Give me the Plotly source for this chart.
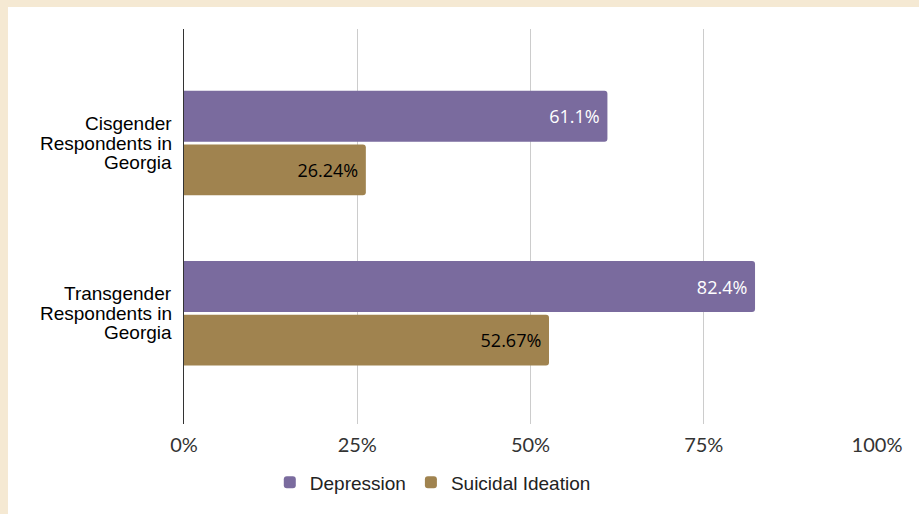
import plotly.graph_objects as go

categories = ["Cisgender Respondents in Georgia", "Transgender Respondents in Georgia"]
category_lines = [["Cisgender", "Respondents in", "Georgia"],
                  ["Transgender", "Respondents in", "Georgia"]]
depression = [61.1, 82.4]
suicidal = [26.24, 52.67]
tick_vals = [0, 25, 50, 75, 100]
tick_text = ["0%", "25%", "50%", "75%", "100%"]

purple = "#7a6b9e"
brown = "#a0834f"
NBSP = "\u00a0"

fig = go.Figure()
fig.add_trace(go.Bar(
    y=categories, x=depression, orientation="h", name="Depression",
    marker=dict(color=purple, line=dict(width=0)),
    text=[f"{v}%{NBSP}" for v in depression], textposition="inside", insidetextanchor="end",
    textfont=dict(family="Open Sans", size=18, color="white"),
))
fig.add_trace(go.Bar(
    y=categories, x=suicidal, orientation="h", name="Suicidal Ideation",
    marker=dict(color=brown, line=dict(width=0)),
    text=[f"{v}%{NBSP}" for v in suicidal], textposition="inside", insidetextanchor="end",
    textfont=dict(family="Open Sans", size=18, color="black"),
))

fig.add_shape(type="rect", xref="paper", yref="paper", x0=-0.254, x1=1.2, y0=-0.3, y1=1.0557,
              fillcolor="white", line=dict(width=0), layer="below")

for cat, lines in zip(categories, category_lines):
    n = len(lines)
    for i, line in enumerate(lines):
        fig.add_annotation(x=0, xref="paper", xanchor="right", xshift=-10,
                           y=cat, yref="y", yanchor="middle",
                           yshift=((n - 1) / 2 - i) * 19.5,
                           text=line, showarrow=False, align="right",
                           font=dict(family="Liberation Sans", size=19, color="black"))

fig.update_layout(
    width=919, height=514,
    margin=dict(l=184, r=42, t=29, b=90),
    paper_bgcolor="#f5e9d3", plot_bgcolor="white",
    barmode="group", bargap=0.37, bargroupgap=0.05, barcornerradius=3,
    showlegend=True,
    legend=dict(orientation="h", x=0.359, xanchor="center", y=-0.1, yanchor="top",
                bgcolor="rgba(0,0,0,0)",
                font=dict(family="Liberation Sans", size=19, color="#222"), traceorder="normal"),
    hovermode=False,
)
fig.update_xaxes(range=[0, 100], tickvals=tick_vals, ticktext=tick_text, showgrid=True,
                 gridcolor="#cccccc", gridwidth=1, zeroline=False, showline=False,
                 tickfont=dict(family="Lato", size=20, color="#333"), ticks="", ticklabelstandoff=7)
fig.update_yaxes(autorange=False, range=[1.65, -0.67], showline=True, linecolor="#333", linewidth=1,
                 showticklabels=False, ticks="", showgrid=False)

fig.write_html("out.html")
